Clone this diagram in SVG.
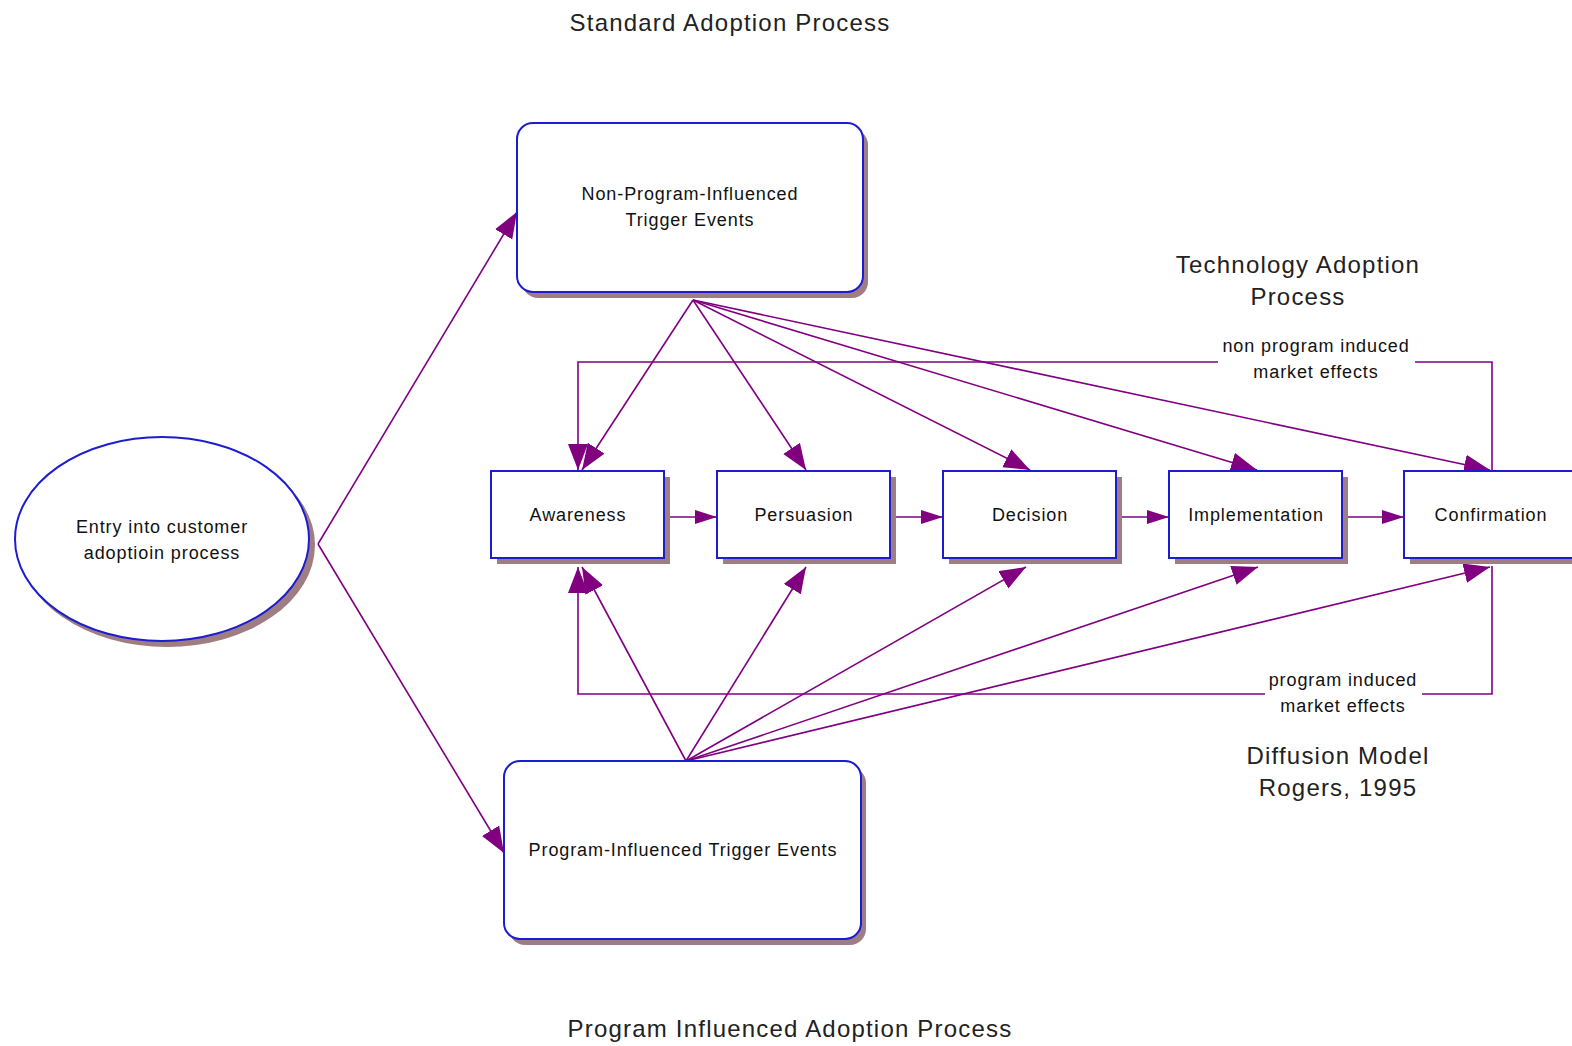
<svg xmlns="http://www.w3.org/2000/svg" width="1572" height="1046" viewBox="0 0 1572 1046">
  <style>
    .shape { fill: #ffffff; stroke: #1c1cd0; stroke-width: 2; }
    .shadow { fill: #9e7e82; stroke: none; }
    .lbl { font-family: "Liberation Sans", Arial, sans-serif; font-size: 18px; letter-spacing: 0.9px; fill: #111111; text-anchor: middle; }
    .title { font-family: "Liberation Sans", Arial, sans-serif; font-size: 24px; letter-spacing: 1.2px; fill: #222222; text-anchor: middle; }
    .edge { fill: none; stroke: #800080; stroke-width: 1.6; }
  </style>
  <defs>
    <marker id="head" markerUnits="userSpaceOnUse" markerWidth="28" markerHeight="22" refX="26" refY="10" orient="auto">
      <path d="M0,0 L26,10 L0,20 z" fill="#800080"/>
    </marker>
    <marker id="headSmall" markerUnits="userSpaceOnUse" markerWidth="24" markerHeight="14" refX="22" refY="7" orient="auto">
      <path d="M0,0 L22,7 L0,14 z" fill="#800080"/>
    </marker>
  </defs>

  <rect width="1572" height="1046" fill="#ffffff"/>

  <!-- headings -->
  <text class="title" x="730" y="31">Standard Adoption Process</text>
  <text class="title" x="1298" y="273">Technology Adoption</text>
  <text class="title" x="1298" y="305">Process</text>
  <text class="title" x="1338" y="764">Diffusion Model</text>
  <text class="title" x="1338" y="796">Rogers, 1995</text>
  <text class="title" x="790" y="1037">Program Influenced Adoption Process</text>

  <!-- connectors -->
  <g id="connectors">
    <!-- entry to trigger events -->
    <line class="edge" x1="318" y1="544" x2="517" y2="212" marker-end="url(#head)"/>
    <line class="edge" x1="318" y1="544" x2="504" y2="853" marker-end="url(#head)"/>

    <!-- non-program triggers fan out -->
    <line class="edge" x1="693" y1="300" x2="582" y2="470" marker-end="url(#head)"/>
    <line class="edge" x1="693" y1="300" x2="806" y2="470" marker-end="url(#head)"/>
    <line class="edge" x1="693" y1="300" x2="1030" y2="470" marker-end="url(#head)"/>
    <line class="edge" x1="693" y1="300" x2="1257" y2="470" marker-end="url(#head)"/>
    <line class="edge" x1="693" y1="300" x2="1490" y2="470" marker-end="url(#head)"/>

    <!-- program triggers fan out -->
    <line class="edge" x1="686" y1="761" x2="582" y2="567" marker-end="url(#head)"/>
    <line class="edge" x1="686" y1="761" x2="806" y2="567" marker-end="url(#head)"/>
    <line class="edge" x1="686" y1="761" x2="1026" y2="567" marker-end="url(#head)"/>
    <line class="edge" x1="686" y1="761" x2="1258" y2="567" marker-end="url(#head)"/>
    <line class="edge" x1="686" y1="761" x2="1490" y2="567" marker-end="url(#head)"/>

    <!-- stage sequence -->
    <line class="edge" x1="670" y1="517" x2="717" y2="517" marker-end="url(#headSmall)"/>
    <line class="edge" x1="896" y1="517" x2="943" y2="517" marker-end="url(#headSmall)"/>
    <line class="edge" x1="1122" y1="517" x2="1169" y2="517" marker-end="url(#headSmall)"/>
    <line class="edge" x1="1348" y1="517" x2="1404" y2="517" marker-end="url(#headSmall)"/>

    <!-- non program induced market effects loop -->
    <path class="edge" d="M1492,471 V362 H1415"/>
    <path class="edge" d="M1218,362 H578 V470" marker-end="url(#head)"/>
    <text class="lbl" x="1316" y="352">non program induced</text>
    <text class="lbl" x="1316" y="378">market effects</text>

    <!-- program induced market effects loop -->
    <path class="edge" d="M1492,566 V694 H1422"/>
    <path class="edge" d="M1265,694 H578 V567" marker-end="url(#head)"/>
    <text class="lbl" x="1343" y="686">program induced</text>
    <text class="lbl" x="1343" y="712">market effects</text>
  </g>

  <!-- nodes -->
  <g id="entry">
    <ellipse class="shadow" cx="167" cy="545" rx="148" ry="102"/>
    <ellipse class="shape" cx="162" cy="539" rx="147" ry="102"/>
    <text class="lbl" x="162" y="533">Entry into customer</text>
    <text class="lbl" x="162" y="559">adoptioin process</text>
  </g>

  <g id="non-program-triggers">
    <rect class="shadow" x="522" y="129" width="346" height="169" rx="16"/>
    <rect class="shape" x="517" y="123" width="346" height="169" rx="16"/>
    <text class="lbl" x="690" y="200">Non-Program-Influenced</text>
    <text class="lbl" x="690" y="226">Trigger Events</text>
  </g>

  <g id="program-triggers">
    <rect class="shadow" x="509" y="767" width="357" height="178" rx="16"/>
    <rect class="shape" x="504" y="761" width="357" height="178" rx="16"/>
    <text class="lbl" x="683" y="856">Program-Influenced Trigger Events</text>
  </g>

  <g id="awareness">
    <rect class="shadow" x="497" y="477" width="173" height="87"/>
    <rect class="shape" x="491" y="471" width="173" height="87"/>
    <text class="lbl" x="578" y="521">Awareness</text>
  </g>

  <g id="persuasion">
    <rect class="shadow" x="723" y="477" width="173" height="87"/>
    <rect class="shape" x="717" y="471" width="173" height="87"/>
    <text class="lbl" x="804" y="521">Persuasion</text>
  </g>

  <g id="decision">
    <rect class="shadow" x="949" y="477" width="173" height="87"/>
    <rect class="shape" x="943" y="471" width="173" height="87"/>
    <text class="lbl" x="1030" y="521">Decision</text>
  </g>

  <g id="implementation">
    <rect class="shadow" x="1175" y="477" width="173" height="87"/>
    <rect class="shape" x="1169" y="471" width="173" height="87"/>
    <text class="lbl" x="1256" y="521">Implementation</text>
  </g>

  <g id="confirmation">
    <rect class="shadow" x="1410" y="477" width="173" height="87"/>
    <rect class="shape" x="1404" y="471" width="173" height="87"/>
    <text class="lbl" x="1491" y="521">Confirmation</text>
  </g>
</svg>
